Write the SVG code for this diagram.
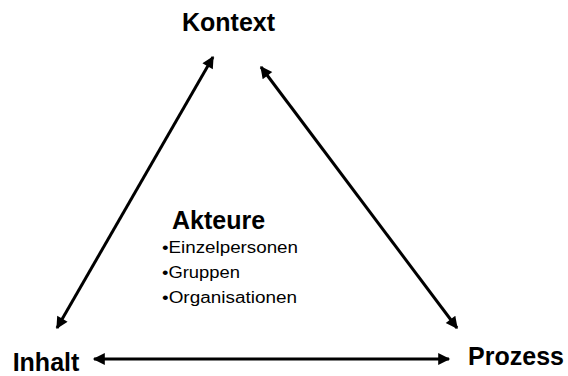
<svg xmlns="http://www.w3.org/2000/svg" width="568" height="376" viewBox="0 0 568 376">
  <style>
    .title { font-family: "Liberation Sans", Arial, sans-serif; font-weight: bold; font-size: 25px; fill: #000; }
    .item { font-family: "Liberation Sans", Arial, sans-serif; font-size: 16px; fill: #000; }
    .conn { stroke: #000; stroke-width: 3; fill: none; marker-start: url(#head); marker-end: url(#head); }
  </style>
  <defs>
    <marker id="head" viewBox="0 0 10 10" refX="9" refY="5" markerWidth="4.5" markerHeight="4" orient="auto-start-reverse" markerUnits="strokeWidth">
      <path d="M0,0 L10,5 L0,10 Z" fill="#000"/>
    </marker>
  </defs>
  <rect width="568" height="376" fill="#fff"/>

  <g id="connectors">
    <line class="conn" x1="213" y1="57" x2="57" y2="328"/>
    <line class="conn" x1="261" y1="67" x2="457" y2="328"/>
    <line class="conn" x1="94" y1="359" x2="449" y2="359"/>
  </g>

  <g id="kontext">
    <text class="title" x="228.5" y="31" text-anchor="middle">Kontext</text>
  </g>
  <g id="inhalt">
    <text class="title" x="46" y="371" text-anchor="middle">Inhalt</text>
  </g>
  <g id="prozess">
    <text class="title" x="516" y="365" text-anchor="middle">Prozess</text>
  </g>
  <g id="akteure">
    <text class="title" x="172" y="229">Akteure</text>
    <text class="item" x="162" y="253" textLength="136" lengthAdjust="spacingAndGlyphs">•Einzelpersonen</text>
    <text class="item" x="162" y="278" textLength="78" lengthAdjust="spacingAndGlyphs">•Gruppen</text>
    <text class="item" x="162" y="303" textLength="135" lengthAdjust="spacingAndGlyphs">•Organisationen</text>
  </g>
</svg>
